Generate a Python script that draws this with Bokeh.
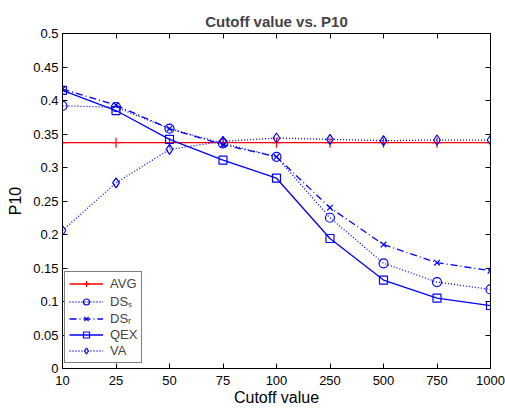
from bokeh.plotting import figure
from bokeh.models import FixedTicker, LinearAxis, Legend, LegendItem, Range1d
from bokeh.embed import file_html
from bokeh.resources import INLINE

cutoffs = ["10", "25", "50", "75", "100", "250", "500", "750", "1000"]
avg = [0.337, 0.337, 0.337, 0.337, 0.337, 0.337, 0.337, 0.337, 0.337]
ds_s = [0.392, 0.390, 0.358, 0.336, 0.316, 0.225, 0.157, 0.129, 0.118]
ds_r = [0.417, 0.393, 0.358, 0.334, 0.316, 0.240, 0.185, 0.158, 0.146]
qex = [0.415, 0.385, 0.342, 0.311, 0.284, 0.194, 0.132, 0.105, 0.094]
va = [0.206, 0.277, 0.327, 0.339, 0.344, 0.342, 0.340, 0.341, 0.341]
y_ticks = [0, 0.05, 0.1, 0.15, 0.2, 0.25, 0.3, 0.35, 0.4, 0.45, 0.5]
y_tick_labels = ["0", "0.05", "0.1", "0.15", "0.2", "0.25", "0.3", "0.35", "0.4", "0.45", "0.5"]

xs = list(range(len(cutoffs)))
FONT = "Liberation Sans"
BLUE = "#0000ff"
RED = "#ff0000"

p = figure(width=505, height=408, output_backend="svg", toolbar_location=None,
           x_range=Range1d(xs[0], xs[-1]), y_range=Range1d(y_ticks[0], y_ticks[-1]),
           title="Cutoff value vs. P10")
p.min_border_left = 62
p.min_border_right = 15
p.min_border_top = 33
p.min_border_bottom = 0
p.grid.visible = False
p.outline_line_color = "black"
p.background_fill_color = "white"
p.border_fill_color = "white"

p.title.text_font = FONT
p.title.text_font_size = "15px"
p.title.text_font_style = "bold"
p.title.align = "center"
p.title.standoff = 7

x_overrides = {i: c for i, c in zip(xs, cutoffs)}
y_overrides = {t: l for t, l in zip(y_ticks, y_tick_labels)}

def style_axis(ax, ticks, overrides, blank=False):
    ax.ticker = FixedTicker(ticks=ticks)
    ax.major_label_overrides = {k: ("" if blank else v) for k, v in overrides.items()}
    ax.major_tick_in = 5
    ax.major_tick_out = 0
    ax.minor_tick_line_color = None
    ax.axis_line_color = "black"
    ax.major_tick_line_color = "black"
    ax.major_label_text_font = FONT
    ax.major_label_text_font_size = "13px"
    ax.major_label_text_color = "black"
    ax.major_label_text_line_height = 1.0
    ax.axis_label_text_font = FONT
    ax.axis_label_text_font_size = "16px"
    ax.axis_label_text_font_style = "normal"
    ax.axis_label_text_color = "black"
    ax.axis_label_text_line_height = 1.0
    if blank:
        ax.major_label_standoff = 0

style_axis(p.xaxis[0], xs, x_overrides)
p.xaxis[0].axis_label = "Cutoff value"
p.xaxis[0].major_label_standoff = 7
p.xaxis[0].axis_label_standoff = 1
p.xaxis[0].major_label_text_line_height = 0.9
p.xaxis[0].axis_label_text_line_height = 0.9
style_axis(p.yaxis[0], y_ticks, y_overrides)
p.yaxis[0].axis_label = "P10"
p.yaxis[0].major_label_standoff = 4
p.yaxis[0].axis_label_standoff = 6

top = LinearAxis()
style_axis(top, xs, x_overrides, blank=True)
p.add_layout(top, "above")
right = LinearAxis()
style_axis(right, y_ticks, y_overrides, blank=True)
p.add_layout(right, "right")

items = []
def series(label, ys, color, dash, marker, size):
    r1 = p.line(xs, ys, line_color=color, line_width=1.3, line_dash=dash)
    r2 = p.scatter(xs, ys, marker=marker, size=size, line_color=color,
                   fill_color=None, line_width=1.2)
    items.append(LegendItem(label=label, renderers=[r1, r2]))

series("AVG", avg, RED, "solid", "cross", 10)
series("DS\u209b", ds_s, BLUE, "1 2", "circle", 9)
series("DS\u1d63", ds_r, BLUE, "7 3 1 3", "x", 8)
series("QEX", qex, BLUE, "solid", "square", 8)
series("VA", va, BLUE, "1 2", "diamond", 10)

legend = Legend(items=items, location=(2, 5), margin=0, padding=4, spacing=1,
                glyph_width=34, glyph_height=15, label_height=15,
                label_standoff=7, label_text_font=FONT, label_text_font_size="13px",
                label_text_line_height=0.9,
                border_line_color="black", border_line_width=1,
                background_fill_color="white", background_fill_alpha=1.0)
p.add_layout(legend, "center")

open("out.html", "w").write(file_html(p, INLINE))
